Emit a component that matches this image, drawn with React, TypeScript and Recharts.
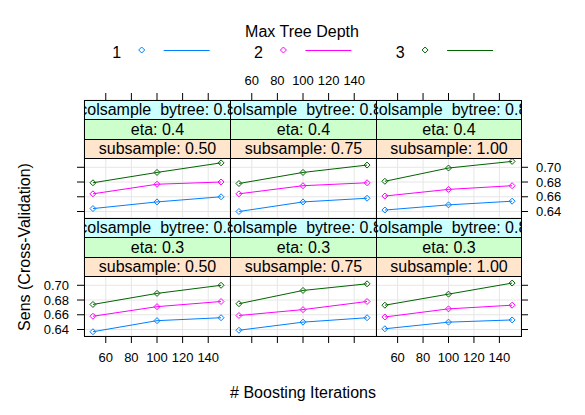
import React from "react";
import { LineChart, Line, XAxis, YAxis, CartesianGrid } from "recharts";

const iterations = [50, 100, 150];
const depthLevels = ["1", "2", "3"];
const depthColors = ["#0080ff", "#ff00ff", "#006400"];
const etaLevels = ["0.4", "0.3"]; // top row, bottom row
const subsampleLevels = ["0.50", "0.75", "1.00"];
const colsampleLevel = "0.8";
const xTicks = [60, 80, 100, 120, 140];
const yTicks = [0.64, 0.66, 0.68, 0.7];

// Sens per max tree depth (1, 2, 3) at 50 / 100 / 150 boosting iterations
const eta04Sub050 = [
    [0.644, 0.653, 0.66],
    [0.664, 0.677, 0.68],
    [0.679, 0.693, 0.706],
];
const eta04Sub075 = [
    [0.64, 0.653, 0.658],
    [0.664, 0.675, 0.679],
    [0.678, 0.693, 0.703],
];
const eta04Sub100 = [
    [0.642, 0.649, 0.654],
    [0.661, 0.67, 0.675],
    [0.681, 0.699, 0.708],
];
const eta03Sub050 = [
    [0.637, 0.652, 0.656],
    [0.658, 0.671, 0.678],
    [0.674, 0.689, 0.7],
];
const eta03Sub075 = [
    [0.639, 0.65, 0.656],
    [0.659, 0.667, 0.678],
    [0.675, 0.693, 0.702],
];
const eta03Sub100 = [
    [0.641, 0.65, 0.653],
    [0.657, 0.668, 0.673],
    [0.673, 0.688, 0.703],
];

const panelValues = [
    [eta04Sub050, eta04Sub075, eta04Sub100],
    [eta03Sub050, eta03Sub075, eta03Sub100],
];

// layout
const COL_X = [84, 230, 376];
const COL_W = [146, 146, 145];
const ROW_Y = [100, 218];
const STRIP_OFF = [0, 19, 39];
const STRIP_H = [19, 20, 19];
const PLOT_OFF = 58;
const PLOT_H = 60;
const ROW_H = PLOT_OFF + PLOT_H;
const AXIS_W = 50;
const AXIS_H = 40;
const X_DOMAIN = [43, 157];
const Y_MIN = 0.6312;
const Y_MAX = 0.7126;
// the plot area also spans the strips, so stretch the y range over them
const Y_TOP = Y_MIN + ((Y_MAX - Y_MIN) * ROW_H) / PLOT_H;

const FONT = "'Liberation Sans', Arial, sans-serif";
const stripColors = ["#ccffff", "#ccffcc", "#ffe5cc"];

const diamond = (props: any) => {
    const { cx, cy, stroke, index } = props;
    if (cx == null || cy == null) return <g key={index} />;
    return (
        <path
            key={index}
            d={`M${cx - 3},${cy}L${cx},${cy - 3}L${cx + 3},${cy}L${cx},${cy + 3}Z`}
            fill="none"
            stroke={stroke}
            strokeWidth={1}
        />
    );
};

const Panel = ({ row, col }: { row: number; col: number }) => {
    const values = panelValues[row][col];
    const data = iterations.map((it, i) => ({
        iter: it,
        d1: values[0][i],
        d2: values[1][i],
        d3: values[2][i],
    }));
    const top = row === 0;
    const showX = top ? col === 1 : col !== 1;
    const leftLabels = !top && col === 0;
    const rightLabels = top && col === 2;
    const tickStyle = { fill: "#000", fontSize: 13 };
    return (
        <div
            style={{
                position: "absolute",
                left: COL_X[col] - AXIS_W,
                top: top ? ROW_Y[0] - AXIS_H : ROW_Y[1] - 2,
            }}
        >
            <LineChart
                width={COL_W[col] + 2 * AXIS_W}
                height={ROW_H + AXIS_H + 2}
                data={data}
                margin={top ? { top: 0, right: 0, bottom: 2, left: 0 } : { top: 2, right: 0, bottom: 0, left: 0 }}
            >
                <CartesianGrid stroke="#e6e6e6" />
                <XAxis
                    dataKey="iter"
                    type="number"
                    domain={X_DOMAIN}
                    allowDataOverflow
                    ticks={xTicks}
                    interval={0}
                    orientation={top ? "top" : "bottom"}
                    height={AXIS_H}
                    tickSize={7}
                    tickMargin={top ? 8 : 10}
                    axisLine={false}
                    stroke="#000"
                    tick={tickStyle}
                    tickFormatter={(v) => (showX ? String(v) : "")}
                />
                <YAxis
                    type="number"
                    domain={[Y_MIN, Y_TOP]}
                    allowDataOverflow
                    ticks={yTicks}
                    interval={0}
                    width={AXIS_W}
                    tickSize={7}
                    tickMargin={8}
                    axisLine={false}
                    tickLine={col === 0}
                    stroke="#000"
                    tick={tickStyle}
                    tickFormatter={(v) => (leftLabels ? Number(v).toFixed(2) : "")}
                />
                <YAxis
                    yAxisId="r"
                    orientation="right"
                    type="number"
                    domain={[Y_MIN, Y_TOP]}
                    allowDataOverflow
                    ticks={yTicks}
                    interval={0}
                    width={AXIS_W}
                    tickSize={7}
                    tickMargin={8}
                    axisLine={false}
                    tickLine={col === 2}
                    stroke="#000"
                    tick={tickStyle}
                    tickFormatter={(v) => (rightLabels ? Number(v).toFixed(2) : "")}
                />
                {depthLevels.map((d, i) => (
                    <Line
                        key={d}
                        type="linear"
                        dataKey={`d${i + 1}`}
                        stroke={depthColors[i]}
                        strokeWidth={1}
                        dot={diamond}
                        activeDot={false}
                        isAnimationActive={false}
                    />
                ))}
            </LineChart>
        </div>
    );
};

const Strips = ({ row, col }: { row: number; col: number }) => {
    const labels = [
        // the underscore is hidden under the next strip in the original
        <>
            colsample<span style={{ color: "transparent" }}>_</span>bytree: {colsampleLevel}
        </>,
        <>eta: {etaLevels[row]}</>,
        <>subsample: {subsampleLevels[col]}</>,
    ];
    return (
        <>
            {labels.map((label, i) => (
                <div
                    key={i}
                    style={{
                        position: "absolute",
                        left: COL_X[col],
                        top: ROW_Y[row] + STRIP_OFF[i],
                        width: COL_W[col] + 1,
                        height: STRIP_H[i] + 1,
                        boxSizing: "border-box",
                        border: "1px solid #000",
                        background: stripColors[i],
                        display: "flex",
                        justifyContent: "center",
                        alignItems: "center",
                        overflow: "hidden",
                        whiteSpace: "nowrap",
                        fontSize: 16,
                        color: "#000",
                    }}
                >
                    {label}
                </div>
            ))}
            <div
                style={{
                    position: "absolute",
                    left: COL_X[col],
                    top: ROW_Y[row] + PLOT_OFF,
                    width: COL_W[col] + 1,
                    height: PLOT_H + 1,
                    boxSizing: "border-box",
                    border: "1px solid #000",
                    pointerEvents: "none",
                }}
            />
        </>
    );
};

export default function App() {
    const cells = [0, 1].flatMap((r) => [0, 1, 2].map((c) => ({ r, c })));
    return (
        <div
            style={{
                position: "absolute",
                left: 0,
                top: 0,
                width: 585,
                height: 415,
                background: "#fff",
                fontFamily: FONT,
                overflow: "hidden",
            }}
        >
            {cells.map(({ r, c }) => (
                <Panel key={`p${r}${c}`} row={r} col={c} />
            ))}
            {cells.map(({ r, c }) => (
                <Strips key={`s${r}${c}`} row={r} col={c} />
            ))}
            <svg width={585} height={415} style={{ position: "absolute", left: 0, top: 0, pointerEvents: "none" }}>
                <text x={302} y={31} textAnchor="middle" dominantBaseline="central" fontSize={16} fill="#000">
                    Max Tree Depth
                </text>
                {depthLevels.map((d, i) => {
                    const x = 116.7 + i * 141.7;
                    return (
                        <g key={d}>
                            <text x={x} y={52} textAnchor="middle" dominantBaseline="central" fontSize={16} fill="#000">
                                {d}
                            </text>
                            <path
                                d={`M${x + 22},${50}L${x + 25},${47}L${x + 28},${50}L${x + 25},${53}Z`}
                                fill="none"
                                stroke={depthColors[i]}
                            />
                            <line x1={x + 47} x2={x + 93} y1={50.5} y2={50.5} stroke={depthColors[i]} />
                        </g>
                    );
                })}
                <text
                    x={24}
                    y={247}
                    transform="rotate(-90 24 247)"
                    textAnchor="middle"
                    dominantBaseline="central"
                    fontSize={16}
                    fill="#000"
                >
                    Sens (Cross-Validation)
                </text>
                <text x={303} y={392} textAnchor="middle" dominantBaseline="central" fontSize={16} fill="#000">
                    # Boosting Iterations
                </text>
            </svg>
        </div>
    );
}
